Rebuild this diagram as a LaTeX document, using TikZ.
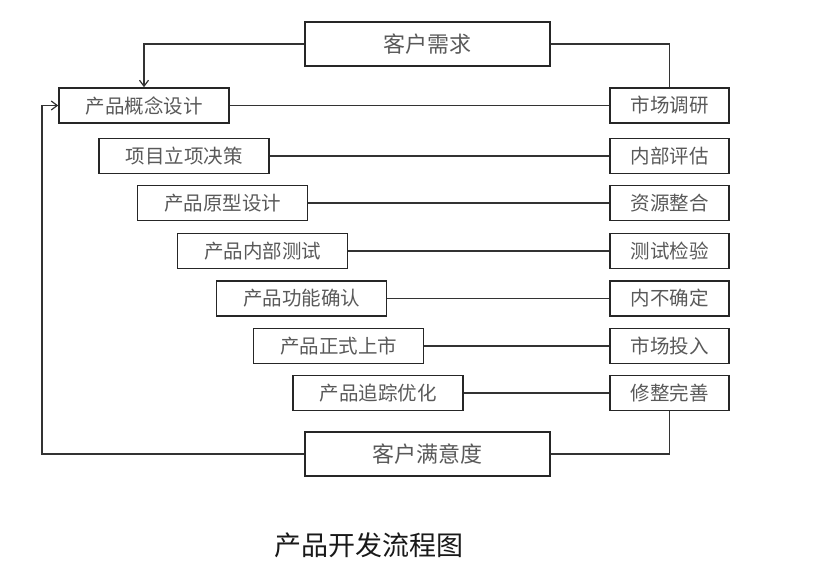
\documentclass[tikz,border=0pt]{standalone}
\usepackage{fontspec}
\setmainfont{Noto Sans CJK SC}
\usetikzlibrary{arrows.meta}

\begin{document}
\begin{tikzpicture}[
  x=1pt, y=-1pt,
  font=\fontsize{19.5}{21}\selectfont,
  lbox/.style={draw=black!85, line width=1.6pt, minimum width=170pt, minimum height=35pt, inner sep=0pt, text=black!65},
  rbox/.style={lbox, minimum width=119pt},
  wbox/.style={lbox, minimum width=245pt, minimum height=44pt, font=\fontsize{22}{24}\selectfont},
  link/.style={draw=black!80, line width=1.2pt},
  arrow/.style={link, -{Straight Barb[length=6pt, width=9pt]}}
]
\useasboundingbox (0,0) rectangle (818,586);

\node[wbox] (need) at (427.5,44) {客户需求};

\node[lbox] (concept) at (144,105.5) {产品概念设计};
\node[lbox] (project) at (184,156) {项目立项决策};
\node[lbox] (proto) at (222.5,203) {产品原型设计};
\node[lbox] (test) at (262.5,251) {产品内部测试};
\node[lbox] (confirm) at (301.5,298.5) {产品功能确认};
\node[lbox] (launch) at (338.5,346) {产品正式上市};
\node[lbox] (track) at (378,393) {产品追踪优化};

\node[rbox] (survey) at (669.5,105.5) {市场调研};
\node[rbox] (assess) at (669.5,156) {内部评估};
\node[rbox] (resource) at (669.5,203) {资源整合};
\node[rbox] (verify) at (669.5,251) {测试检验};
\node[rbox] (define) at (669.5,298.5) {内不确定};
\node[rbox] (invest) at (669.5,346) {市场投入};
\node[rbox] (refine) at (669.5,393) {修整完善};

\node[wbox] (satisfy) at (427.5,454) {客户满意度};

\coordinate (loop) at (42,454);

\draw[arrow] (need.west) -| (concept.north);
\draw[link] (need.east) -| (survey.north);

\draw[link] (concept) -- (survey);
\draw[link] (project) -- (assess);
\draw[link] (proto) -- (resource);
\draw[link] (test) -- (verify);
\draw[link] (confirm) -- (define);
\draw[link] (launch) -- (invest);
\draw[link] (track) -- (refine);

\draw[link] (refine.south) |- (satisfy.east);
\draw[arrow] (satisfy.west) -- (loop) |- (concept.west);

\node[font=\fontsize{27}{29}\selectfont, text=black!90] (title) at (368.5,545) {产品开发流程图};

\end{tikzpicture}
\end{document}
